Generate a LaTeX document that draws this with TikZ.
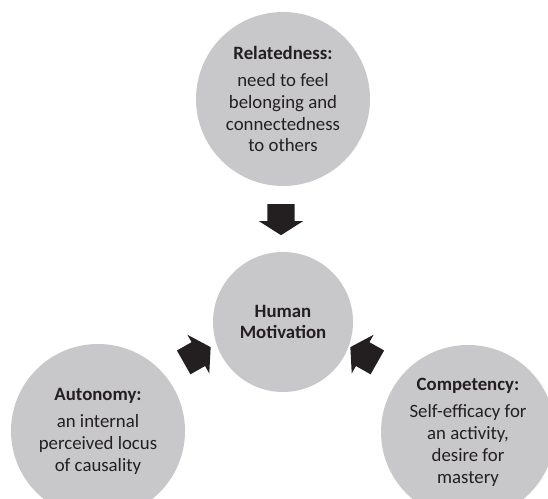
\documentclass[tikz,border=0pt]{standalone}
\usepackage{fontspec}
\setmainfont{Carlito}
\usetikzlibrary{shapes.arrows}
\definecolor{needgray}{RGB}{200,200,202}
\definecolor{inkblack}{RGB}{35,31,32}

\begin{document}
\begin{tikzpicture}[x=1pt, y=1pt,
    need/.style={circle, fill=needgray, minimum size=174pt, inner sep=0pt, align=center, text=inkblack, font=\fontsize{18.8}{21.7}\selectfont},
    core/.style={need, minimum size=140pt},
    blockarrow/.style={single arrow, fill=inkblack, minimum height=31pt, inner xsep=0pt, inner ysep=13.5pt, single arrow head extend=8.5pt, single arrow tip angle=115, anchor=tail}
]
\useasboundingbox (0,0) rectangle (548,498);

% Centre
\node[core] (motivation) at (283,176) {\textbf{Human}\\ \textbf{Motivation}};

% Three needs
\node[need] (relatedness) at (283,399) {\textbf{Relatedness:}\\[6pt] need to feel\\ belonging and\\ connectedness\\ to others};
\node[need] (autonomy) at (98,67) {\textbf{Autonomy:}\\[6pt] an internal\\ perceived locus\\ of causality};
\node[need] (competency) at (468,66) {\textbf{Competency:}\\[6pt] Self-efficacy for\\ an activity,\\ desire for\\ mastery};

% Block arrows pointing in
\node[blockarrow, rotate=-90] (fromrel) at (281,294) {};
\node[blockarrow, rotate=29.5] (fromaut) at (183.5,135.5) {};
\node[blockarrow, rotate=150.5] (fromcomp) at (377.5,135.5) {};

\end{tikzpicture}
\end{document}
